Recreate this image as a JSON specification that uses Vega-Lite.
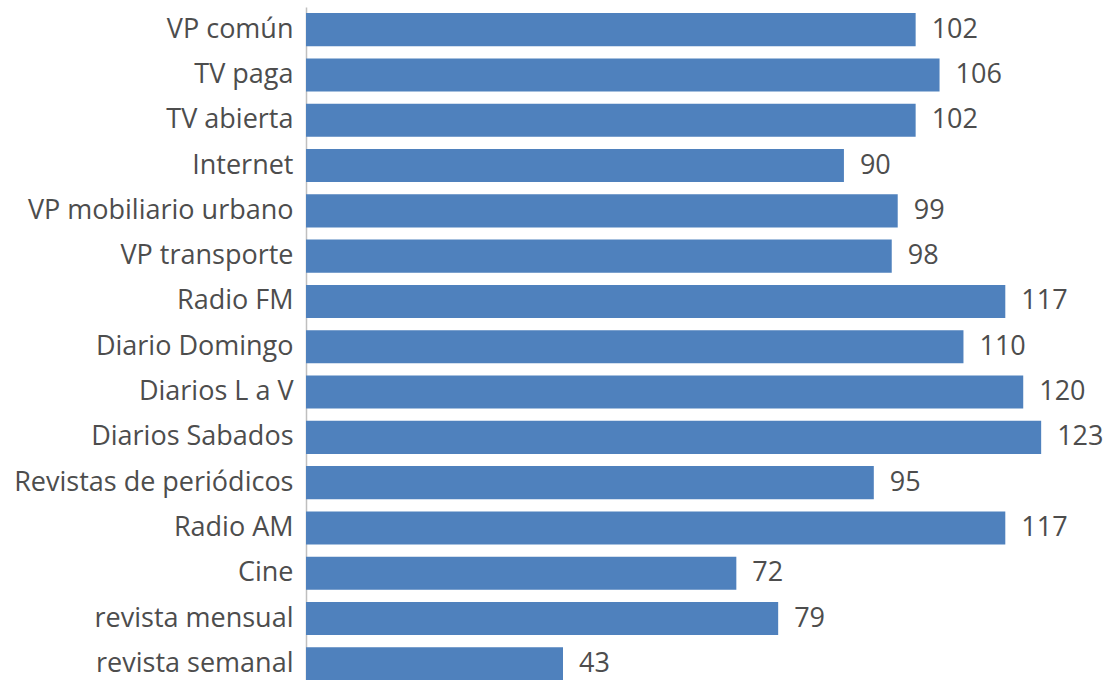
{
  "$schema": "https://vega.github.io/schema/vega-lite/v6.json",
  "autosize": {"type": "none"},
  "padding": {"left": 306, "top": 7, "right": 20, "bottom": 0},
  "width": 777,
  "height": 679.5,
  "background": "white",
  "config": {"view": {"stroke": null}, "font": "Open Sans"},
  "data": {"values": [
    {"cat": "VP común", "v": 102},
    {"cat": "TV paga", "v": 106},
    {"cat": "TV abierta", "v": 102},
    {"cat": "Internet", "v": 90},
    {"cat": "VP mobiliario urbano", "v": 99},
    {"cat": "VP transporte", "v": 98},
    {"cat": "Radio FM", "v": 117},
    {"cat": "Diario Domingo", "v": 110},
    {"cat": "Diarios L a V", "v": 120},
    {"cat": "Diarios Sabados", "v": 123},
    {"cat": "Revistas de periódicos", "v": 95},
    {"cat": "Radio AM", "v": 117},
    {"cat": "Cine", "v": 72},
    {"cat": "revista mensual", "v": 79},
    {"cat": "revista semanal", "v": 43}
  ]},
  "encoding": {
    "y": {"field": "cat", "type": "nominal", "sort": null,
      "scale": {"paddingInner": 0.27, "paddingOuter": 0.135},
      "axis": {"title": null, "ticks": false, "domainColor": "#bfbfbf", "domainWidth": 1.5,
        "labelFontSize": 27, "labelColor": "#4d4d4d", "labelPadding": 13, "labelLimit": 400}},
    "x": {"field": "v", "type": "quantitative", "scale": {"domain": [0, 130], "nice": false}, "axis": null}
  },
  "layer": [
    {"mark": {"type": "bar", "color": "#4f81bd"}},
    {"mark": {"type": "text", "align": "left", "baseline": "middle", "dx": 16, "fontSize": 27, "color": "#4d4d4d"},
     "encoding": {"text": {"field": "v", "type": "quantitative"}}}
  ]
}
